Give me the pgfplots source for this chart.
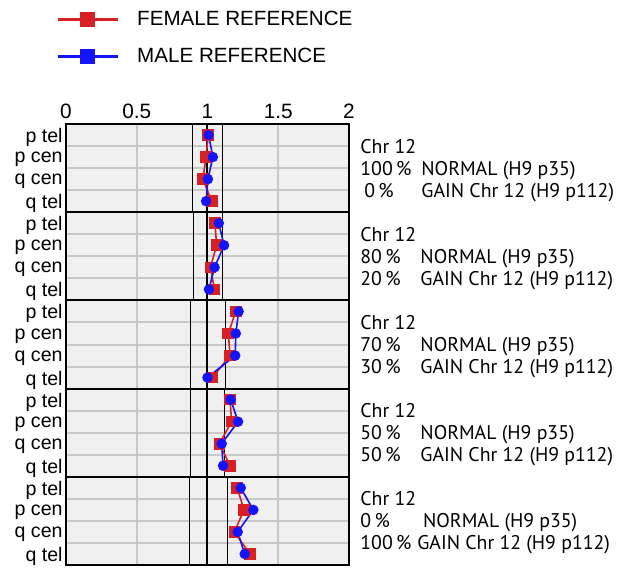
\documentclass[border=0pt]{standalone}
\usepackage{fontspec}
\setmainfont{Liberation Sans}
\newfontfamily\myriad{PT Sans}
\usepackage{pgfplots}
\pgfplotsset{compat=1.18}

\definecolor{fem}{RGB}{214,32,38}
\definecolor{mal}{RGB}{20,20,250}
\definecolor{bg}{RGB}{240,240,240}
\definecolor{gl}{RGB}{200,200,200}

\begin{document}
\begin{tikzpicture}
\begin{axis}[
  at={(0,0)}, anchor=south west,
  scale only axis, width=141.5pt, height=220.5pt,
  xmin=0, xmax=2, ymin=0, ymax=20, y dir=reverse,
  axis background/.style={fill=bg},
  axis line style={line width=1pt},
  xtick={0,0.5,1,1.5,2}, xticklabels={0,0.5,1,1.5,2},
  xticklabel pos=upper,
  xticklabel style={font=\fontsize{10.4}{12}\selectfont, inner ysep=2.5pt},
  ytick={0.5,1.5,...,19.5},
  yticklabels={p tel,p cen,q cen,q tel,p tel,p cen,q cen,q tel,p tel,p cen,q cen,q tel,p tel,p cen,q cen,q tel,p tel,p cen,q cen,q tel},
  yticklabel style={font=\fontsize{9.8}{10}\selectfont, inner xsep=1.5pt, yshift=-1.2pt},
  major tick length=0pt, minor tick length=0pt,
  minor ytick={1,2,3,5,6,7,9,10,11,13,14,15,17,18,19},
  xmajorgrids, yminorgrids,
  grid style={gl, line width=1pt},
  minor grid style={gl, line width=1pt},
  extra y ticks={4,8,12,16}, extra y tick labels={},
  extra y tick style={grid=major, major grid style={black, line width=1pt}},
  clip=false,
  legend style={at={(axis description cs:-0.036,1)}, anchor=south west,
    yshift=28pt, draw=none, fill=none, inner sep=0pt, row sep=8pt,
    font=\fontsize{10.3}{11}\selectfont,
    nodes={inner sep=1pt}},
  legend cell align=left,
  legend image code/.code={
    \draw[mark repeat=2, mark phase=2, #1] plot coordinates {(0pt,0pt) (15pt,0pt) (30pt,0pt)};},
]
\addlegendimage{fem, line width=1.5pt, mark=square*, mark size=3pt}
\addlegendentry{\hspace{8pt}FEMALE REFERENCE}
\addlegendimage{mal, line width=1.5pt, mark=square*, mark size=3pt}
\addlegendentry{\hspace{8pt}MALE REFERENCE}

% reference lines per panel
\addplot[black, line width=0.5pt, forget plot] coordinates {(0.895,0) (0.895,4)};
\addplot[black, line width=0.5pt, forget plot] coordinates {(1.107,0) (1.107,4)};
\addplot[black, line width=0.5pt, forget plot] coordinates {(0.90,4) (0.90,8)};
\addplot[black, line width=0.5pt, forget plot] coordinates {(1.107,4) (1.107,8)};
\addplot[black, line width=0.5pt, forget plot] coordinates {(0.88,8) (0.88,12)};
\addplot[black, line width=0.5pt, forget plot] coordinates {(1.13,8) (1.13,12)};
\addplot[black, line width=0.5pt, forget plot] coordinates {(0.88,12) (0.88,16)};
\addplot[black, line width=0.5pt, forget plot] coordinates {(1.12,12) (1.12,16)};
\addplot[black, line width=0.5pt, forget plot] coordinates {(0.87,16) (0.87,20)};
\addplot[black, line width=0.5pt, forget plot] coordinates {(1.14,16) (1.14,20)};
\addplot[black, line width=1pt, forget plot] coordinates {(1,0) (1,20)};

% female reference
\pgfplotsset{every axis plot/.append style={forget plot}}
\addplot[fem, line width=0.8pt, mark=square*, mark size=2.5pt] coordinates {(1.005,0.5) (0.99,1.5) (0.967,2.5) (1.03,3.5)};
\addplot[fem, line width=0.8pt, mark=square*, mark size=2.5pt] coordinates {(1.052,4.5) (1.065,5.5) (1.02,6.5) (1.05,7.5)};
\addplot[fem, line width=0.8pt, mark=square*, mark size=2.5pt] coordinates {(1.20,8.5) (1.147,9.5) (1.16,10.5) (1.034,11.5)};
\addplot[fem, line width=0.8pt, mark=square*, mark size=2.5pt] coordinates {(1.16,12.5) (1.17,13.5) (1.084,14.5) (1.16,15.5)};
\addplot[fem, line width=0.8pt, mark=square*, mark size=2.5pt] coordinates {(1.21,16.5) (1.258,17.5) (1.19,18.5) (1.30,19.5)};

% male reference
\addplot[mal, line width=0.8pt, mark=*, mark size=2.2pt] coordinates {(1.008,0.5) (1.038,1.5) (1.003,2.5) (0.99,3.5)};
\addplot[mal, line width=0.8pt, mark=*, mark size=2.2pt] coordinates {(1.08,4.5) (1.117,5.5) (1.05,6.5) (1.01,7.5)};
\addplot[mal, line width=0.8pt, mark=*, mark size=2.2pt] coordinates {(1.22,8.5) (1.20,9.5) (1.196,10.5) (1.00,11.5)};
\addplot[mal, line width=0.8pt, mark=*, mark size=2.2pt] coordinates {(1.164,12.5) (1.216,13.5) (1.10,14.5) (1.11,15.5)};
\addplot[mal, line width=0.8pt, mark=*, mark size=2.2pt] coordinates {(1.235,16.5) (1.324,17.5) (1.213,18.5) (1.263,19.5)};

% sample descriptions
\begin{scope}[every node/.style={anchor=base west, inner sep=0pt, yshift=-3.5pt, font=\myriad\fontsize{9.9}{10}\selectfont}]
\node at (axis cs:2.078,1) {Chr 12};
\node at (axis cs:2.078,2) {100\,\%};
\node at (axis cs:2.509,2) {NORMAL (H9 p35)};
\node at (axis cs:2.106,3) {0\,\%};
\node at (axis cs:2.509,3) {GAIN Chr 12 (H9 p112)};
\node at (axis cs:2.078,5) {Chr 12};
\node at (axis cs:2.078,6) {80\,\%};
\node at (axis cs:2.502,6) {NORMAL (H9 p35)};
\node at (axis cs:2.078,7) {20\,\%};
\node at (axis cs:2.502,7) {GAIN Chr 12 (H9 p112)};
\node at (axis cs:2.078,9) {Chr 12};
\node at (axis cs:2.078,10) {70\,\%};
\node at (axis cs:2.502,10) {NORMAL (H9 p35)};
\node at (axis cs:2.078,11) {30\,\%};
\node at (axis cs:2.502,11) {GAIN Chr 12 (H9 p112)};
\node at (axis cs:2.078,13) {Chr 12};
\node at (axis cs:2.078,14) {50\,\%};
\node at (axis cs:2.502,14) {NORMAL (H9 p35)};
\node at (axis cs:2.078,15) {50\,\%};
\node at (axis cs:2.502,15) {GAIN Chr 12 (H9 p112)};
\node at (axis cs:2.078,17) {Chr 12};
\node at (axis cs:2.078,18) {0\,\%};
\node at (axis cs:2.521,18) {NORMAL (H9 p35)};
\node at (axis cs:2.078,19) {100\,\%};
\node at (axis cs:2.48,19) {GAIN Chr 12 (H9 p112)};
\end{scope}
\end{axis}
\useasboundingbox (-33pt,-0.5pt) rectangle (275.5pt,282.5pt);
\end{tikzpicture}
\end{document}
